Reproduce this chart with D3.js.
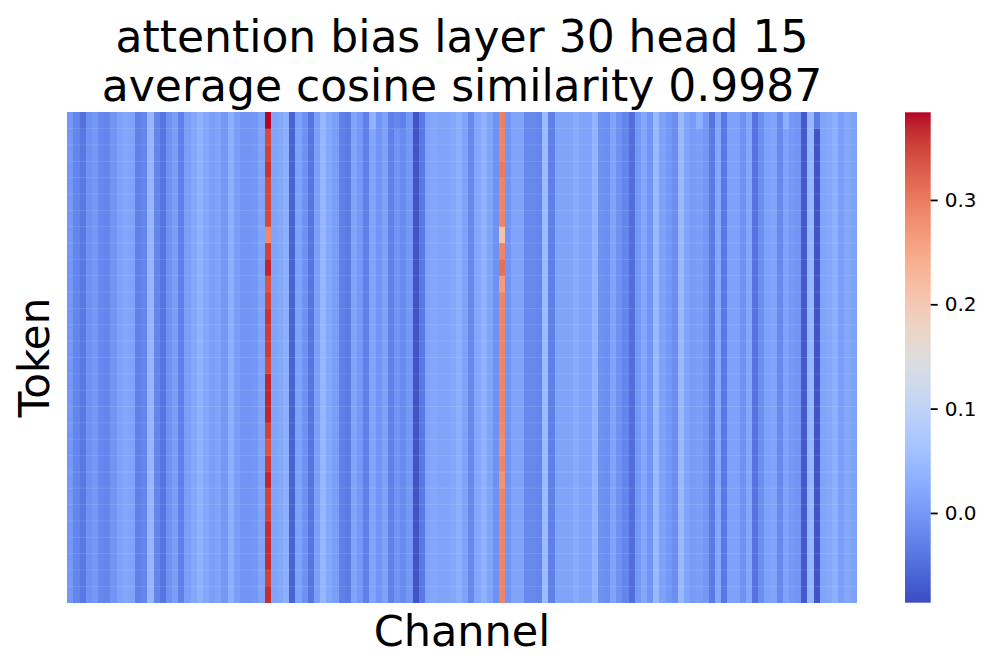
<!DOCTYPE html>
<html>
<head>
<meta charset="utf-8">
<script src="https://cdn.jsdelivr.net/npm/d3@7"></script>
<style>
  body { margin: 0; background: #fff; }
  svg { display: block; font-family: "DejaVu Sans", sans-serif; }
</style>
</head>
<body>
<svg id="chart" width="997" height="670"></svg>
<script>
// per-channel bias (value shared by most tokens)
var channelBias = [
  -0.001, -0.024, -0.038, -0.009, -0.001, -0.020, -0.024, -0.005,
   0.012,  0.020,  0.016, -0.030, -0.024,  0.043, -0.024, -0.042,
  -0.009,  0.008, -0.030,  0.008,  0.020,  0.035,  0.020,  0.008,
   0.016, -0.001,  0.030,  0.008, -0.005, -0.005, -0.001,  0.016,
   0.350,  0.016,  0.020,  0.030, -0.062,  0.012, -0.009, -0.042,
   0.008,  0.043,  0.020,  0.008, -0.030, -0.035,  0.016, -0.001,
  -0.030,  0.016, -0.005,  0.012, -0.030, -0.005, -0.017, -0.001,
  -0.078, -0.038,  0.016,  0.020,  0.016,  0.016,  0.020,  0.030,
   0.012, -0.020,  0.020,  0.035,  0.016, -0.009,  0.290, -0.005,
   0.016,  0.016, -0.020, -0.020, -0.024,  0.050, -0.030,  0.016,
   0.016,  0.016,  0.025,  0.016,  0.016,  0.039, -0.009, -0.013,
   0.016, -0.009, -0.024, -0.050, -0.001,  0.020, -0.005,  0.047,
   0.012, -0.001, -0.013,  0.047,  0.016,  0.004,  0.008, -0.001,
  -0.036,  0.020, -0.038,  0.012,  0.012, -0.009,  0.020, -0.044,
  -0.013,  0.012,  0.016, -0.020,  0.012, -0.001, -0.005, -0.072,
   0.043, -0.078,  0.016,  0.020,  0.030,  0.008,  0.020,  0.012
];

// the two outlier channels, token by token
var hotChannelA = 32;
var hotValuesA = [0.384, 0.345, 0.350, 0.360, 0.345, 0.345, 0.345, 0.285, 0.350, 0.370,
                  0.335, 0.350, 0.360, 0.355, 0.355, 0.345, 0.370, 0.370, 0.370, 0.350,
                  0.335, 0.355, 0.370, 0.350, 0.350, 0.365, 0.365, 0.365, 0.350, 0.365];
var hotChannelB = 70;
var hotValuesB = [0.295, 0.290, 0.290, 0.300, 0.290, 0.290, 0.290, 0.210, 0.290, 0.310,
                  0.265, 0.290, 0.290, 0.290, 0.290, 0.290, 0.290, 0.290, 0.290, 0.285,
                  0.280, 0.290, 0.275, 0.290, 0.290, 0.290, 0.290, 0.290, 0.290, 0.290];

// cells of the first token that differ from the channel bias: [token, channel, value]
var cellOverrides = [
  [0, 2, -0.046], [0, 49, 0.035], [0, 53, -0.020], [0, 54, -0.028],
  [0, 102, 0.030], [0, 116, 0.030], [0, 121, -0.035], [0, 104, -0.044]
];

var nTokens = 30;
var colorTicks = [0.0, 0.1, 0.2, 0.3];
var vmin = -0.086, vmax = 0.384;

// matplotlib "coolwarm"
var coolwarm = [
  [59,76,192],[68,90,204],[77,104,215],[87,117,225],[98,130,234],[108,142,241],
  [119,154,247],[130,165,251],[141,176,254],[152,185,255],[163,194,255],[174,201,253],
  [184,208,249],[194,213,244],[204,217,238],[213,219,230],[221,221,221],[229,216,209],
  [236,211,197],[241,204,185],[245,196,173],[247,187,160],[247,177,148],[247,166,135],
  [244,154,123],[241,141,111],[236,127,99],[229,112,88],[222,96,77],[213,80,66],
  [203,62,56],[192,40,47],[180,4,38]
];

var svg = d3.select("#chart");

var plotLeft = 67.3, plotRight = 856.7, plotTop = 112.3, plotBottom = 602.7;

var channels = d3.range(channelBias.length);
var tokens = d3.range(nTokens);

var x = d3.scaleBand().domain(channels).range([plotLeft, plotRight]).padding(0);
var y = d3.scaleBand().domain(tokens).range([plotTop, plotBottom]).padding(0);

var stopValues = coolwarm.map(function(c, i) { return vmin + (vmax - vmin) * i / (coolwarm.length - 1); });
var color = d3.scaleLinear()
    .domain(stopValues)
    .range(coolwarm.map(function(c) { return d3.rgb(c[0], c[1], c[2]); }))
    .interpolate(d3.interpolateRgb)
    .clamp(true);

// build the token x channel grid
var cells = [];
tokens.forEach(function(t) {
  channels.forEach(function(c) {
    var v = channelBias[c];
    if (c == hotChannelA) v = hotValuesA[t];
    if (c == hotChannelB) v = hotValuesB[t];
    cells.push({ t: t, c: c, v: v });
  });
});
cellOverrides.forEach(function(o) {
  cells[o[0] * channels.length + o[1]].v = o[2];
});

svg.append("g")
    .attr("class", "cells")
    .selectAll("rect")
    .data(cells)
    .enter().append("rect")
    .attr("x", function(d) { return x(d.c); })
    .attr("y", function(d) { return y(d.t); })
    .attr("width", x.bandwidth() + 0.4)
    .attr("height", y.bandwidth() + 0.4)
    .attr("shape-rendering", "crispEdges")
    .attr("fill", function(d) { return color(d.v); });

// faint seams between token rows
svg.append("g")
    .selectAll("line")
    .data(tokens.slice(1))
    .enter().append("line")
    .attr("x1", plotLeft).attr("x2", plotRight)
    .attr("y1", function(d) { return y(d); })
    .attr("y2", function(d) { return y(d); })
    .attr("stroke", "#fff")
    .attr("stroke-opacity", 0.12)
    .attr("stroke-width", 1);

// colorbar
var cbX = 905, cbW = 25.7;
var defs = svg.append("defs");
var grad = defs.append("linearGradient")
    .attr("id", "cbGrad")
    .attr("x1", 0).attr("y1", 1).attr("x2", 0).attr("y2", 0);
grad.selectAll("stop")
    .data(coolwarm)
    .enter().append("stop")
    .attr("offset", function(d, i) { return i / (coolwarm.length - 1); })
    .attr("stop-color", function(d) { return d3.rgb(d[0], d[1], d[2]); });

svg.append("rect")
    .attr("x", cbX).attr("y", plotTop)
    .attr("width", cbW).attr("height", plotBottom - plotTop)
    .attr("fill", "url(#cbGrad)");

var cbScale = d3.scaleLinear().domain([vmin, vmax]).range([plotBottom, plotTop]);
var cbAxis = svg.append("g")
    .attr("transform", "translate(" + (cbX + cbW) + ",0)")
    .call(d3.axisRight(cbScale).tickValues(colorTicks).tickFormat(d3.format(".1f"))
      .tickSize(7).tickPadding(7));
cbAxis.select(".domain").remove();
cbAxis.selectAll(".tick line").attr("stroke", "#000").attr("stroke-width", 1.8);
cbAxis.selectAll(".tick text")
    .attr("fill", "#000")
    .style("font-family", "DejaVu Sans")
    .style("font-size", "20px");

// titles and labels
svg.append("text")
    .attr("x", (plotLeft + plotRight) / 2).attr("y", 52)
    .attr("text-anchor", "middle")
    .style("font-size", "44px")
    .text("attention bias layer 30 head 15");
svg.append("text")
    .attr("x", (plotLeft + plotRight) / 2).attr("y", 101)
    .attr("text-anchor", "middle")
    .style("font-size", "44px")
    .text("average cosine similarity 0.9987");

svg.append("text")
    .attr("x", (plotLeft + plotRight) / 2).attr("y", 646)
    .attr("text-anchor", "middle")
    .style("font-size", "43px")
    .text("Channel");

svg.append("text")
    .attr("transform", "translate(49," + ((plotTop + plotBottom) / 2) + ") rotate(-90)")
    .attr("text-anchor", "middle")
    .style("font-size", "42px")
    .text("Token");
</script>
</body>
</html>
